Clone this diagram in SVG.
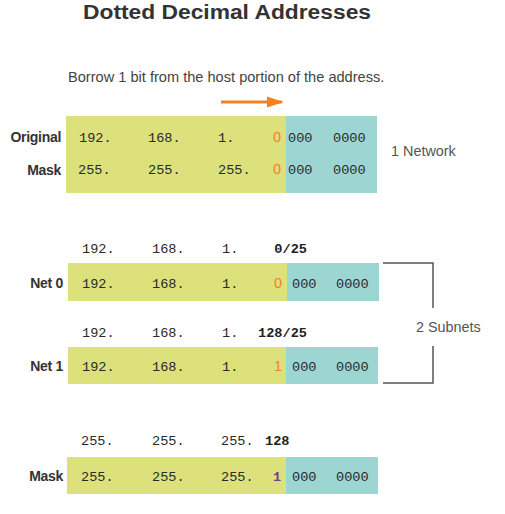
<svg xmlns="http://www.w3.org/2000/svg" width="505" height="514" viewBox="0 0 505 514">
<style>
.title{font-family:"Liberation Sans",Arial,sans-serif;font-weight:bold;font-size:20px;fill:#333}
.sub{font-family:"Liberation Sans",Arial,sans-serif;font-size:14.6px;fill:#444}
.lbl{font-family:"Liberation Sans",Arial,sans-serif;font-weight:bold;font-size:14px;fill:#333;text-anchor:end;letter-spacing:-0.3px}
.note{font-family:"Liberation Sans",Arial,sans-serif;font-size:14.4px;fill:#555}
.m{font-family:"Liberation Mono","Courier New",monospace;font-size:13.6px;fill:#2a2a2a}
.mb{font-family:"Liberation Mono","Courier New",monospace;font-size:13.6px;font-weight:bold;fill:#222}
.or{font-family:"Liberation Sans",Arial,sans-serif;font-size:14.5px;fill:#f5821f}
.pu{font-family:"Liberation Mono","Courier New",monospace;font-size:13.6px;font-weight:bold;fill:#7b3a8c}
.y{fill:#dce17b}
.t{fill:#9dd5d2}
.br{fill:none;stroke:#555;stroke-width:1.5}
</style>
<defs>
<marker id="ah" markerWidth="6" markerHeight="4" refX="5.5" refY="2" orient="auto" markerUnits="strokeWidth">
<path d="M0,0 L6,2 L0,4 Z" fill="#f5821f"/>
</marker>
</defs>
<text class="title" x="83" y="18.5" textLength="288" lengthAdjust="spacingAndGlyphs">Dotted Decimal Addresses</text>
<text class="sub" x="68" y="82">Borrow 1 bit from the host portion of the address.</text>
<g id="connectors">
<line x1="221" y1="102" x2="282" y2="102" stroke="#f5821f" stroke-width="2.8" marker-end="url(#ah)"/>
<path class="br" d="M383,263 H433 V308 M433,346 V383 H383"/>
</g>
<g id="original">
<rect class="y" x="66" y="116" width="220" height="77"/>
<rect class="t" x="286" y="116" width="91" height="77"/>
<text class="lbl" x="61" y="142">Original</text>
<text class="lbl" x="61" y="175">Mask</text>
<text class="m" x="79" y="142">192.</text>
<text class="m" x="148" y="142">168.</text>
<text class="m" x="218" y="142">1.</text>
<text class="or" x="273" y="142">0</text>
<text class="m" x="288" y="142">000</text>
<text class="m" x="333" y="142">0000</text>
<text class="m" x="78" y="174">255.</text>
<text class="m" x="148" y="174">255.</text>
<text class="m" x="218" y="174">255.</text>
<text class="or" x="273" y="174">0</text>
<text class="m" x="288" y="174">000</text>
<text class="m" x="333" y="174">0000</text>
</g>
<text class="note" x="391" y="156">1 Network</text>
<g id="net0">
<text class="m" x="82" y="253">192.</text>
<text class="m" x="152" y="253">168.</text>
<text class="m" x="222" y="253">1.</text>
<text class="mb" x="307" y="253" text-anchor="end">0/25</text>
<rect class="y" x="68" y="263" width="219" height="38"/>
<rect class="t" x="287" y="263" width="92" height="38"/>
<text class="lbl" x="63" y="288">Net 0</text>
<text class="m" x="82" y="288">192.</text>
<text class="m" x="152" y="288">168.</text>
<text class="m" x="222" y="288">1.</text>
<text class="or" x="274" y="288">0</text>
<text class="m" x="292" y="288">000</text>
<text class="m" x="336" y="288">0000</text>
</g>
<g id="net1">
<text class="m" x="82" y="337">192.</text>
<text class="m" x="152" y="337">168.</text>
<text class="m" x="222" y="337">1.</text>
<text class="mb" x="307" y="337" text-anchor="end">128/25</text>
<rect class="y" x="68" y="347" width="218" height="37"/>
<rect class="t" x="286" y="347" width="92" height="37"/>
<text class="lbl" x="63" y="371">Net 1</text>
<text class="m" x="82" y="371">192.</text>
<text class="m" x="152" y="371">168.</text>
<text class="m" x="222" y="371">1.</text>
<text class="or" x="274" y="371">1</text>
<text class="m" x="292" y="371">000</text>
<text class="m" x="336" y="371">0000</text>
</g>
<text class="note" x="416" y="332">2 Subnets</text>
<g id="mask">
<text class="m" x="81" y="445">255.</text>
<text class="m" x="152" y="445">255.</text>
<text class="m" x="221" y="445">255.</text>
<text class="mb" x="265" y="445">128</text>
<rect class="y" x="67" y="457" width="219" height="37"/>
<rect class="t" x="286" y="457" width="92" height="37"/>
<text class="lbl" x="63" y="481">Mask</text>
<text class="m" x="81" y="481">255.</text>
<text class="m" x="152" y="481">255.</text>
<text class="m" x="221" y="481">255.</text>
<text class="pu" x="273" y="481">1</text>
<text class="m" x="292" y="481">000</text>
<text class="m" x="336" y="481">0000</text>
</g>
</svg>
